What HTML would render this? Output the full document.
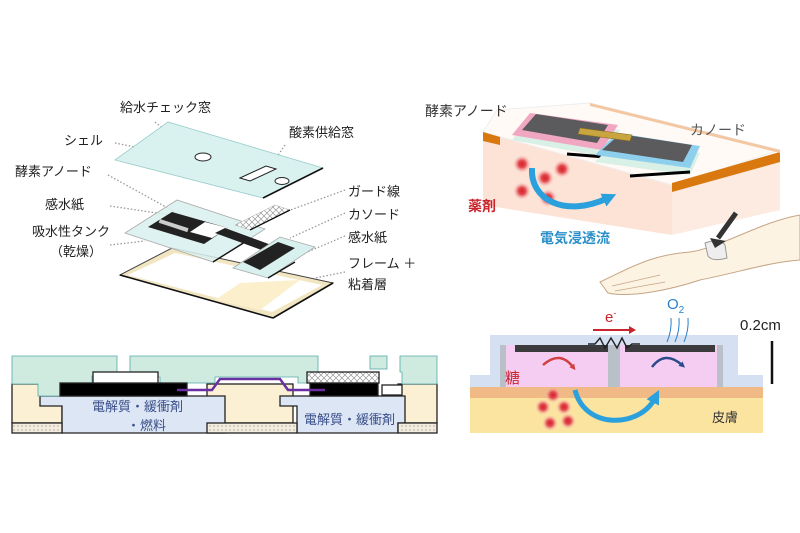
<!DOCTYPE html>
<html><head><meta charset="utf-8"><style>
html,body{margin:0;padding:0;background:#fff;}
svg{display:block;}
text{font-family:"Liberation Sans","Noto Sans CJK JP",sans-serif;}
</style></head><body>
<svg width="800" height="533" viewBox="0 0 800 533" xmlns="http://www.w3.org/2000/svg">
<defs>
<pattern id="hatch" width="6" height="6" patternUnits="userSpaceOnUse">
<rect width="6" height="6" fill="#fff"/><path d="M0 0L6 6M6 0L0 6" stroke="#999" stroke-width="0.7"/></pattern>
<pattern id="dots" width="4" height="4" patternUnits="userSpaceOnUse">
<rect width="4" height="4" fill="#f3ece0"/><circle cx="2" cy="2" r="0.8" fill="#b9a88f"/></pattern>
<radialGradient id="drug"><stop offset="0" stop-color="#d8202a"/><stop offset="0.4" stop-color="#e24a4e"/><stop offset="1" stop-color="#f7c2c2" stop-opacity="0"/></radialGradient>
<marker id="ab" markerWidth="14" markerHeight="14" refX="5" refY="7" orient="auto" markerUnits="userSpaceOnUse"><path d="M0 0L14 7L0 14z" fill="#2aa0dc"/></marker>
<marker id="ar" markerWidth="6" markerHeight="6" refX="2" refY="3" orient="auto" markerUnits="userSpaceOnUse"><path d="M0 0L6 3L0 6z" fill="#d04040"/></marker>
<marker id="an" markerWidth="6" markerHeight="6" refX="2" refY="3" orient="auto" markerUnits="userSpaceOnUse"><path d="M0 0L6 3L0 6z" fill="#2a4a8a"/></marker>
</defs>

<!-- ===== exploded view ===== -->
<g stroke="#999" stroke-width="1.3" stroke-dasharray="1.5 2" fill="none">
<line x1="155" y1="122" x2="195" y2="155"/>
<line x1="115" y1="143" x2="150" y2="150"/>
<line x1="285" y1="145" x2="268" y2="170"/>
<line x1="108" y1="175" x2="175" y2="212"/>
<line x1="110" y1="206" x2="170" y2="215"/>
<line x1="110" y1="245" x2="145" y2="241"/>
<line x1="345" y1="190" x2="285" y2="212"/>
<line x1="345" y1="213" x2="290" y2="238"/>
<line x1="345" y1="236" x2="305" y2="253"/>
<line x1="345" y1="272" x2="315" y2="278"/>
</g>
<polygon points="120,275 172,248 333,283 273,318" fill="#f2e6c2" stroke="#444" stroke-width="1"/>
<polygon points="128,275 175,253 322,285 272,312" fill="#fff"/>
<polygon points="240,283 300,280 260,310 215,300" fill="#fbefcc"/>
<line x1="120" y1="275" x2="273" y2="318" stroke="#111" stroke-width="1.6"/>
<line x1="273" y1="318" x2="333" y2="283" stroke="#111" stroke-width="1.6"/>
<polygon points="125,233 177,200 265,229 213,262" fill="#d8f0ee" fill-opacity="0.85" stroke="#aaa" stroke-width="0.8"/>
<line x1="213" y1="262" x2="245" y2="242" stroke="#111" stroke-width="1.4"/>
<polygon points="148,227 172,212 228,228 204,244" fill="#222"/>
<polygon points="190,232 205,222 228,228 212,238" fill="#fff"/>
<rect x="160" y="219" width="30" height="4" fill="#ccc" transform="rotate(18 160 219)"/>
<polygon points="215,233 225,228 285,250 275,255" fill="#222"/>
<polygon points="233,268 280,237 315,247 268,278" fill="#d8f0ee" stroke="#aaa" stroke-width="0.8"/>
<polygon points="243,262 278,242 295,248 260,270" fill="#222"/>
<line x1="268" y1="278" x2="295" y2="262" stroke="#111" stroke-width="1.4"/>
<polygon points="235,225 275,205 290,210 250,230" fill="url(#hatch)" stroke="#aaa" stroke-width="0.5"/>
<line x1="250" y1="230" x2="290" y2="210" stroke="#111" stroke-width="1.4"/>
<polygon points="115,160 168,122 323,168 263,198" fill="#daf2ef" stroke="#9cc" stroke-width="0.8"/>
<line x1="263" y1="198" x2="323" y2="168" stroke="#111" stroke-width="1.6"/>
<ellipse cx="203" cy="157" rx="8" ry="4" fill="#fff" stroke="#222" stroke-width="1"/>
<polygon points="240,178 266,166 276,169 250,181" fill="#fff" stroke="#222" stroke-width="1"/>
<ellipse cx="282" cy="181" rx="7" ry="3.5" fill="#fff" stroke="#222" stroke-width="1"/>
<g font-size="13" fill="#222">
<text x="120" y="112">給水チェック窓</text>
<text x="64" y="145">シェル</text>
<text x="289" y="137">酸素供給窓</text>
<text x="15" y="176">酵素アノード</text>
<text x="45" y="209">感水紙</text>
<text x="32" y="236">吸水性タンク</text>
<text x="50" y="256">（乾燥）</text>
<text x="348" y="196">ガード線</text>
<text x="348" y="219">カソード</text>
<text x="348" y="242">感水紙</text>
<text x="348" y="268">フレーム ＋</text>
<text x="348" y="289">粘着層</text>
</g>

<!-- ===== cross section bottom-left ===== -->
<g stroke="#222" stroke-width="1.3">
<rect x="12" y="384" width="50" height="39" fill="#fbefd4"/>
<rect x="207" y="384" width="86" height="39" fill="#fbefd4"/>
<rect x="398" y="384" width="39" height="39" fill="#fbefd4"/>
<path d="M40 396 H225 V433 H62 V406 H40 Z" fill="#dce6f4"/>
<path d="M280 396 H405 V423 H398 V433 H297 V406 H280 Z" fill="#dce6f4"/>
<rect x="12" y="423" width="50" height="10" fill="url(#dots)"/>
<rect x="207" y="423" width="90" height="10" fill="url(#dots)"/>
<rect x="398" y="423" width="39" height="10" fill="url(#dots)"/>
<path d="M12 356 H117 V376 H92 V383 H60 V396 H38 V384 H12 Z" fill="#cfeadf" stroke="#5aa" stroke-width="0.8"/>
<path d="M130 356 H318 V383 H298 V377 H215 V383 H160 V377 H130 Z" fill="#cfeadf" stroke="#5aa" stroke-width="0.8"/>
<rect x="370" y="356" width="17" height="13" fill="#cfeadf" stroke="#5aa" stroke-width="0.8"/>
<path d="M400 356 H437 V384 H402 V372 H400 Z" fill="#cfeadf" stroke="#5aa" stroke-width="0.8"/>
<rect x="60" y="383" width="127" height="13" fill="#000"/>
<rect x="93" y="372" width="65" height="11" fill="#fff"/>
<rect x="310" y="383" width="68" height="13" fill="#000"/>
<rect x="307" y="372" width="72" height="11" fill="url(#hatch)"/>
<rect x="382" y="385" width="20" height="10" fill="#fff"/>
</g>
<path d="M177 390 H212 L220 379 H280 L288 390 H325" stroke="#6a2fa0" stroke-width="2.5" fill="none"/>
<g font-size="13" fill="#3a4f8a">
<text x="92" y="411">電解質・緩衝剤</text>
<text x="127" y="430">・燃料</text>
<text x="304" y="424">電解質・緩衝剤</text>
</g>

<!-- ===== right top ===== -->
<path d="M600 282 C630 268 650 255 690 252 C720 248 760 222 800 215 L800 260 C770 262 740 272 700 280 C670 290 630 298 608 293 Z" fill="#fdf3e3" stroke="#c5a585" stroke-width="1"/>
<path d="M612 286 L660 275 M615 291 L665 282" stroke="#c5a585" stroke-width="0.8"/>
<path d="M705 243 Q720 238 725 245 L727 258 Q712 262 708 256 Z" fill="#eee" stroke="#999"/>
<!-- front face -->
<polygon points="483,132 672,185 672,235 483,205" fill="#fde3d6"/>
<!-- right face -->
<polygon points="672,185 780,152 780,210 672,235" fill="#fdebe2"/>
<!-- top face -->
<polygon points="483,132 497,110 590,103 780,150 672,185" fill="#fffaf6" stroke="#eee"/>
<polygon points="672,183 780,152 780,162 672,192" fill="#d9780f"/>
<polygon points="483,132 500,137 500,145 483,141" fill="#d9780f"/>
<polygon points="590,103 780,150 780,153 590,106" fill="#f3c7a2"/>
<polygon points="512,140 530,118 620,130 605,157" fill="#d8f0e5"/>
<polygon points="512,135 530,113 618,125 602,150" fill="#f1a6c1"/>
<polygon points="522,130 536,114 608,125 597,143" fill="#5b5b5e"/>
<line x1="567" y1="154" x2="605" y2="157" stroke="#000" stroke-width="3"/>
<polygon points="595,162 617,140 700,153 690,175" fill="#d8f0e5"/>
<polygon points="595,155 617,133 700,146 690,168" fill="#8ecfee"/>
<polygon points="602,150 620,134 692,145 683,162" fill="#5b5b5e"/>
<line x1="630" y1="176" x2="690" y2="172" stroke="#000" stroke-width="3"/>
<polygon points="580,128 632,135 630,141 578,134" fill="#c8a540" stroke="#8a6d1a" stroke-width="0.6"/>
<g fill="url(#drug)">
<circle cx="522" cy="164" r="9"/><circle cx="562" cy="169" r="9"/><circle cx="545" cy="178" r="9"/>
<circle cx="522" cy="191" r="9"/><circle cx="548" cy="198" r="9"/>
</g>
<path d="M532 168 C530 200 565 218 608 198" stroke="#2aa0dc" stroke-width="6" fill="none" marker-end="url(#ab)"/>
<path d="M736 213 L718 238" stroke="#333" stroke-width="5"/>
<polygon points="710,238 726,241 715,248" fill="#333"/>
<g font-size="14">
<text x="425" y="116" fill="#333">酵素アノード</text>
<text x="690" y="135" fill="#555">カノード</text>
<text x="468" y="211" fill="#c8252c" font-weight="bold">薬剤</text>
<text x="540" y="243" fill="#2a8fc9" font-weight="bold">電気浸透流</text>
</g>

<!-- ===== right bottom ===== -->
<rect x="470" y="387" width="293" height="46" fill="#fbe3a0"/>
<rect x="470" y="387" width="293" height="11" fill="#f0b985"/>
<path d="M490 335 H738 V375 H763 V387 H470 V375 H490 Z" fill="#d5e1f2"/>
<rect x="503" y="345" width="105" height="42" fill="#f6cdf2"/>
<rect x="620" y="345" width="97" height="42" fill="#f6cdf2"/>
<rect x="500" y="345" width="6" height="42" fill="#b9c0c8"/>
<rect x="608" y="345" width="12" height="42" fill="#b9c0c8"/>
<rect x="717" y="345" width="6" height="42" fill="#b9c0c8"/>
<rect x="515" y="345" width="93" height="7" fill="#3b3b3d"/>
<rect x="625" y="345" width="90" height="7" fill="#3b3b3d"/>
<path d="M588 344 L595 344 L600 338 L605 348 L611 338 L617 348 L622 338 L627 348 L632 344 L640 344" stroke="#222" stroke-width="1.4" fill="none"/>
<path d="M593 330 H630" stroke="#c8252c" stroke-width="2"/><polygon points="629,326 636,330 629,334" fill="#c8252c"/>
<text x="605" y="322" font-size="15" fill="#c8252c">e<tspan font-size="9" dy="-6">-</tspan></text>
<text x="667" y="309" font-size="15" fill="#2a7fc9">O<tspan font-size="10" dy="4">2</tspan></text>
<g stroke="#2a7fc9" stroke-width="1" fill="none">
<path d="M671 318 Q672 330 667 342"/><path d="M679 318 Q680 330 675 342"/><path d="M688 318 Q689 330 684 342"/>
</g>
<path d="M543 365 Q560 350 573 367" stroke="#d04040" stroke-width="2.5" fill="none" marker-end="url(#ar)"/>
<path d="M652 367 Q665 350 682 365" stroke="#2a4a8a" stroke-width="2.5" fill="none" marker-end="url(#an)"/>
<text x="505" y="383" font-size="15" fill="#c8252c">糖</text>
<g fill="url(#drug)">
<circle cx="553" cy="395" r="8"/><circle cx="543" cy="407" r="8"/><circle cx="564" cy="407" r="8"/>
<circle cx="550" cy="423" r="8"/><circle cx="568" cy="421" r="8"/>
</g>
<path d="M575 390 C585 430 640 428 655 398" stroke="#2aa0dc" stroke-width="5" fill="none" marker-end="url(#ab)"/>
<text x="712" y="422" font-size="13" fill="#333">皮膚</text>
<text x="740" y="330" font-size="15" fill="#222">0.2cm</text>
<line x1="772" y1="341" x2="772" y2="384" stroke="#111" stroke-width="2.5"/>
</svg>
</body></html>
